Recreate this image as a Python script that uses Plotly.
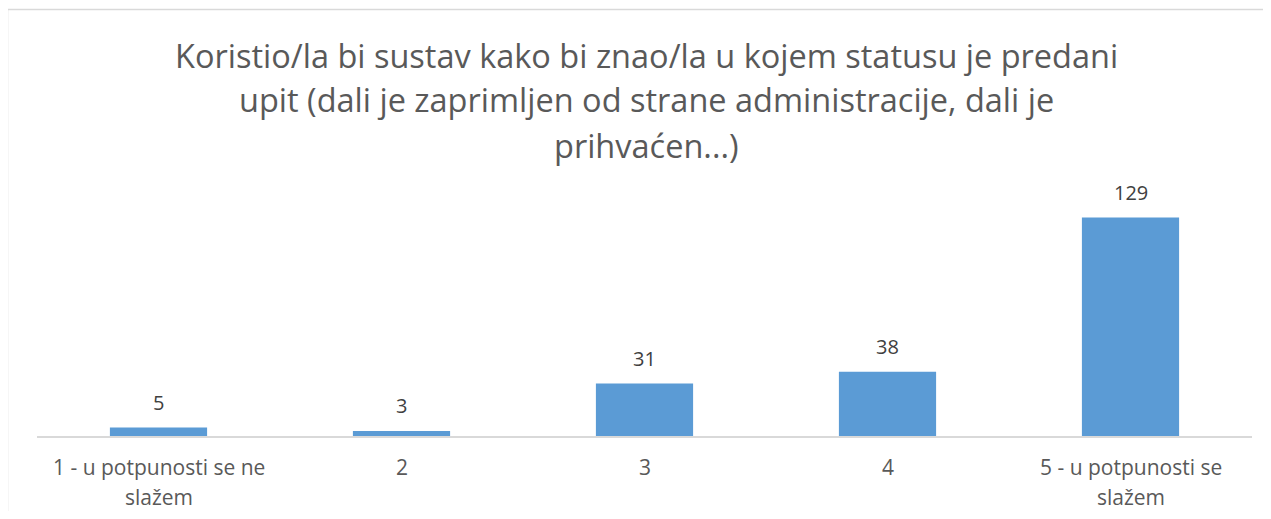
import plotly.graph_objects as go

categories = ["1 - u potpunosti se ne<br>slažem", "2", "3", "4", "5 - u potpunosti se<br>slažem"]
values = [5, 3, 31, 38, 129]
title_lines = [
    "Koristio/la bi sustav kako bi znao/la u kojem statusu je predani",
    "upit (dali je zaprimljen od strane administracije, dali je",
    "prihvaćen...)",
]

# the page body has an 8px margin, so work in shifted pixel coords
OFF = 8
W, H = 1271 - 2 * OFF, 519 - 2 * OFF
L, R = 37 - OFF, W - (1252 - OFF)
T, B = 182 - OFF, H - (436 - OFF)
plot_w = W - L - R
plot_h = H - T - B
FONT = "'Open Sans', Lato, sans-serif"


def py(px):
    # pixel row of the reference -> paper y
    return (436 - px) / plot_h


def pxx(px):
    return (px - 37) / plot_w


fig = go.Figure(go.Bar(
    x=list(range(len(values))), y=values,
    marker=dict(color="#5b9bd5", line=dict(width=0)),
    hoverinfo="x+y",
))

# data labels above bars
for i, v in enumerate(values):
    fig.add_annotation(x=i, y=v, text=str(v), showarrow=False,
                       yanchor="bottom", yshift=10,
                       font=dict(family=FONT, size=20, color="#404040"))

# category labels, wrapped like Excel (30px line pitch)
for i, cat in enumerate(categories):
    for k, part in enumerate(cat.split("<br>")):
        fig.add_annotation(x=i, xref="x", yref="paper", y=py(467 + 30 * k),
                           text=part, showarrow=False,
                           xanchor="center", yanchor="middle",
                           font=dict(family=FONT, size=21, color="#595959"))

# title, one annotation per line (Excel style spacing)
for line, ypx in zip(title_lines, [55, 100, 145]):
    fig.add_annotation(text=line, xref="paper", yref="paper",
                       x=pxx(646), y=py(ypx),
                       xanchor="center", yanchor="middle", showarrow=False,
                       font=dict(family=FONT, size=32.5, color="#595959"))

# chart border
fig.add_shape(type="rect", xref="paper", yref="paper",
              x0=pxx(7.5), x1=pxx(1300),
              y0=py(560), y1=py(9.5),
              line=dict(color="#d9d9d9", width=1.5), layer="below")

fig.update_layout(
    width=W, height=H,
    margin=dict(l=L, r=R, t=T, b=B),
    bargap=0.6,
    showlegend=False,
    paper_bgcolor="white",
    plot_bgcolor="white",
    font=dict(family=FONT, color="#595959"),
    xaxis=dict(
        tickvals=list(range(len(values))),
        showticklabels=False,
        showline=True, linecolor="#d9d9d9", linewidth=1.5,
        showgrid=False, zeroline=False, ticks="",
        range=[-0.5, len(values) - 0.5],
    ),
    yaxis=dict(range=[0, 150], visible=False, showgrid=False, zeroline=False),
)

fig.write_html("out.html")
